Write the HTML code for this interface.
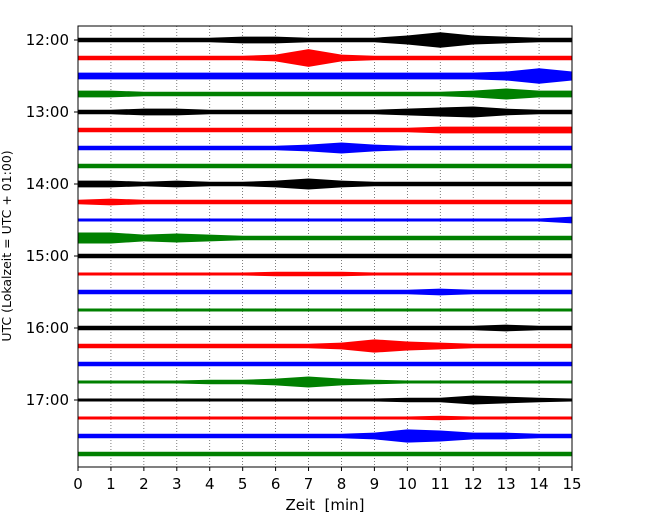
<!DOCTYPE html>
<html><head><meta charset="utf-8"><style>
body{margin:0;background:#fff;}
svg{display:block;font-family:"DejaVu Sans","Liberation Sans",sans-serif;}
</style></head><body>
<svg id="chart" width="650" height="520">
<rect width="650" height="520" fill="#fff"/>
<g id="grid"></g><g id="traces"></g><g id="axes"></g>
</svg>
<script>
const rowLabels=["12:00","13:00","14:00","15:00","16:00","17:00"];
const xTicks=[0,1,2,3,4,5,6,7,8,9,10,11,12,13,14,15];
const colors=["#000","#f00","#00f","#008000"];
const amps=[
[3,3,3,3,3,4,4,3,3,3,5,8,5,4,3,3],
[3,3,3,3,3,3,4,9,4,3,3,3,3,3,3,3],
[4,4,4,4,4,4,4,4,4,4,4,4,4,5,8,5],
[4,4,3,3,3,3,3,3,3,3,3,3,4,6,4,4],
[3,3,4,4,3,3,3,3,3,3,4,5,6,4,3,3],
[3,3,3,3,3,3,3,3,3,3,3,4,4,4,4,4],
[3,3,3,3,3,3,3,4,6,4,3,3,3,3,3,3],
[3,3,3,3,3,3,3,3,3,3,3,3,3,3,3,3],
[4,4,3,4,3,3,4,6,4,3,3,3,3,3,3,3],
[3,4,3,3,3,3,3,3,3,3,3,3,3,3,3,3],
[2,2,2,2,2,2,2,2,2,2,2,2,2,2,2,4],
[6,6,4,5,4,3,3,3,3,3,3,3,3,3,3,3],
[3,3,3,3,3,3,3,3,3,3,3,3,3,3,3,3],
[2,2,2,2,2,2,3,3,3,2,2,2,2,2,2,2],
[3,3,3,3,3,3,3,3,3,3,3,4,3,3,3,3],
[2,2,2,2,2,2,2,2,2,2,2,2,2,2,2,2],
[3,3,3,3,3,3,3,3,3,3,3,3,3,4,3,3],
[3,3,3,3,3,3,3,3,4,7,5,4,3,3,3,3],
[3,3,3,3,3,3,3,3,3,3,3,3,3,3,3,3],
[2,2,2,2,3,3,4,6,4,3,2,2,2,2,2,2],
[2,2,2,2,2,2,2,2,2,2,3,3,5,4,3,2],
[2,2,2,2,2,2,2,2,2,2,2,3,2,2,2,2],
[3,3,3,3,3,3,3,3,3,4,7,6,4,4,3,3],
[3,3,3,3,3,3,3,3,3,3,3,3,3,3,3,3]];
const NS="http://www.w3.org/2000/svg";
const L=78,R=572,T=26,B=467;
function xs(m){return L+(R-L)*m/15;}
function ys(i){return 40+18*i;}
function ampPx(a){return a<=3?a*0.75:2.25+(a-3)*1.1;}
function mk(t,p,parent){const e=document.createElementNS(NS,t);for(const k in p)e.setAttribute(k,p[k]);parent.appendChild(e);return e;}
const grid=document.getElementById('grid'),tr=document.getElementById('traces'),ax=document.getElementById('axes');
xTicks.forEach(m=>{if(m>0&&m<15){const g=mk('line',{x1:xs(m),x2:xs(m),y1:T,y2:B,stroke:'#444','stroke-width':0.7,'stroke-dasharray':'1,2'},grid);

}});
amps.forEach((a,i)=>{let top=[],bot=[];a.forEach((v,k)=>{top.push(xs(k)+','+(ys(i)-ampPx(v)));bot.unshift(xs(k)+','+(ys(i)+ampPx(v)));});
const p=mk('polygon',{points:top.concat(bot).join(' '),fill:colors[i%4]},tr);

});
const fr=mk('rect',{x:L,y:T,width:R-L,height:B-T,fill:'none',stroke:'#000','stroke-width':1},ax);


xTicks.forEach(m=>{mk('line',{x1:xs(m),x2:xs(m),y1:B,y2:B+4,stroke:'#000'},ax);
const t=mk('text',{x:xs(m),y:B+22,'text-anchor':'middle','font-size':15},ax);t.textContent=m;

});
rowLabels.forEach((s,k)=>{const y=ys(k*4);mk('line',{x1:L-4,x2:L,y1:y,y2:y,stroke:'#000'},ax);
const t=mk('text',{x:L-9,y:y+5,'text-anchor':'end','font-size':15},ax);t.textContent=s;

});
const xt=mk('text',{x:325,y:510,'text-anchor':'middle','font-size':15,style:'white-space:pre'},ax);xt.textContent='Zeit  [min]';


const yt=mk('text',{x:11,y:246,'text-anchor':'middle','font-size':12.5,transform:'rotate(-90 11 246)'},ax);yt.textContent='UTC (Lokalzeit = UTC + 01:00)';


</script>
</body></html>
